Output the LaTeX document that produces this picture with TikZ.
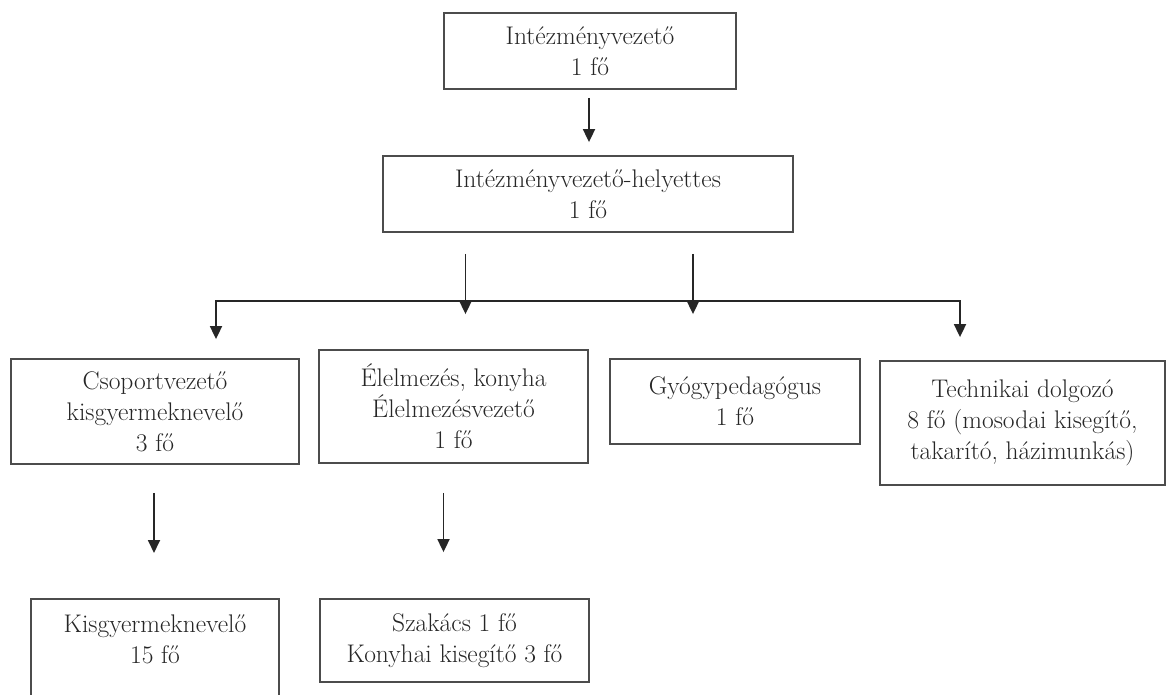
\documentclass[tikz,border=0pt]{standalone}
\usepackage{fontspec}
\usetikzlibrary{calc,arrows.meta}

\begin{document}
\begin{tikzpicture}[x=1pt,y=-1pt,
    box/.style={draw=black!70,line width=1.8pt,align=center,inner sep=0pt,
      text=black!85,font=\fontsize{25.5}{31}\selectfont},
    txt/.style={align=center,inner sep=0pt,text=black!85,
      font=\fontsize{25.5}{31}\selectfont},
    arr/.style={draw=black!85,line width=1.8pt,-{Triangle[width=12pt,length=13pt]}}]
  \clip (0,0) rectangle (1168,695);
  \useasboundingbox (0,0) rectangle (1168,695);

  \node[box,minimum width=292pt,minimum height=76pt] (vez) at (590,51)
    {Intézményvezető\\1 fő};
  \node[box,minimum width=410pt,minimum height=76pt] (helyettes) at (588,194)
    {Intézményvezető-helyettes\\1 fő};

  \node[box,minimum width=288pt,minimum height=105pt] (csoport) at (155,411.5)
    {Csoportvezető\\kisgyermeknevelő\\3 fő};
  \node[box,minimum width=269pt,minimum height=113pt] (elelmezes) at (453.5,406.5)
    {Élelmezés, konyha\\Élelmezésvezető\\1 fő};
  \node[box,minimum width=250pt,minimum height=85pt] (gyogy) at (735,401.5)
    {Gyógypedagógus\\1 fő};
  \node[box,minimum width=285pt,minimum height=124pt] (technikai) at (1022.5,423)
    {Technikai dolgozó\\8 fő (mosodai kisegítő,\\takarító, házimunkás)};

  \node[box,minimum width=248pt,minimum height=140pt,anchor=north] (kisgy) at (155,598) {};
  \node[txt] (kisgytxt) at ($(kisgy.north)+(0,41)$) {Kisgyermeknevelő\\15 fő};
  \node[box,minimum width=269pt,minimum height=83pt] (szakacs) at (454.5,640.5)
    {Szakács 1 fő\\Konyhai kisegítő 3 fő};

  \coordinate (busL) at (216,301);
  \coordinate (busR) at (960,301);

  \draw[arr] ($(vez.south)+(-1,8)$) -- ($(vez.south |- helyettes.north)+(-1,-13)$);

  \draw[arr] ($(elelmezes.north |- helyettes.south)+(12,21)$) -- ($(elelmezes.north)+(12,-35)$);
  \draw[arr] ($(gyogy.north |- helyettes.south)+(-42,21)$) -- ($(gyogy.north)+(-42,-44)$);

  \draw[arr,{Triangle[width=12pt,length=13pt]}-{Triangle[width=12pt,length=13pt]}]
    ($(csoport.north -| busL)+(0,-19)$) -- (busL) -- (busR)
    -- ($(technikai.north -| busR)+(0,-23)$);

  \draw[arr] ($(csoport.south)+(-1,28)$) -- ($(kisgy.north)+(-1,-45)$);
  \draw[arr] ($(elelmezes.south)+(-10,29)$) -- ($(szakacs.north)+(-11,-46)$);
\end{tikzpicture}
\end{document}
